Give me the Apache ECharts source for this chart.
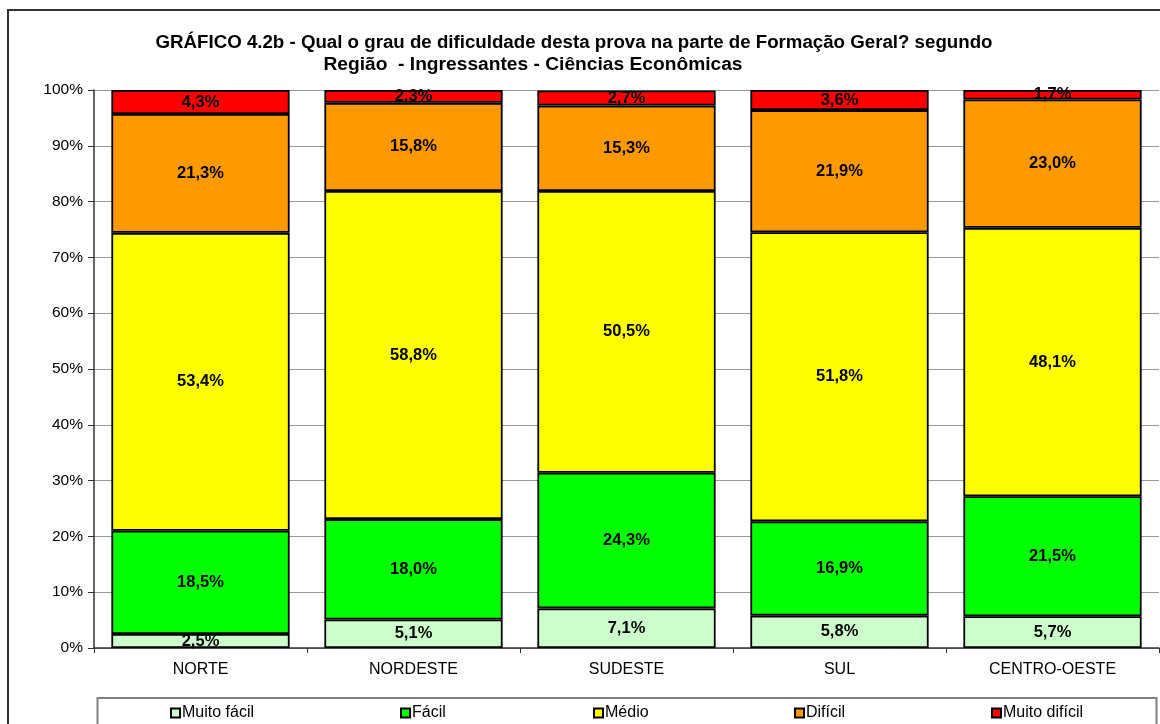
<!DOCTYPE html>
<html>
<head>
<meta charset="utf-8">
<script src="https://cdn.jsdelivr.net/npm/echarts@6/dist/echarts.min.js"></script>
<style>
html,body{margin:0;padding:0;background:#fff;}
#chart{width:1160px;height:724px;}
</style>
</head>
<body>
<div id="chart"></div>
<script>
const categories = ['NORTE', 'NORDESTE', 'SUDESTE', 'SUL', 'CENTRO-OESTE'];
const seriesNames = ['Muito fácil', 'Fácil', 'Médio', 'Difícil', 'Muito difícil'];
const muitoFacil = [2.5, 5.1, 7.1, 5.8, 5.7];
const facil = [18.5, 18.0, 24.3, 16.9, 21.5];
const medio = [53.4, 58.8, 50.5, 51.8, 48.1];
const dificil = [21.3, 15.8, 15.3, 21.9, 23.0];
const muitoDificil = [4.3, 2.3, 2.7, 3.6, 1.7];
const colors = ['#ccffcc', '#00ff00', '#ffff00', '#ff9900', '#ff0000'];
const titleLine1 = 'GRÁFICO 4.2b - Qual o grau de dificuldade desta prova na parte de Formação Geral? segundo';
const titleLine2 = 'Região  - Ingressantes - Ciências Econômicas';

const FONT = '"Liberation Sans", Arial, sans-serif';
const values = [muitoFacil, facil, medio, dificil, muitoDificil];
const legendX = [170, 400, 593, 794, 991];

const chart = echarts.init(document.getElementById('chart'), null, {renderer: 'canvas'});
const option = {
  backgroundColor: '#ffffff',
  animation: false,
  title: [
    {text: titleLine1, left: 569, top: 28, textAlign: 'center',
     textStyle: {fontFamily: FONT, fontSize: 18.7, fontWeight: 'bold', color: '#000'}},
    {text: titleLine2, left: 528, top: 50, textAlign: 'center',
     textStyle: {fontFamily: FONT, fontSize: 19.2, fontWeight: 'bold', color: '#000'}}
  ],
  graphic: [
    {type: 'rect', shape: {x: 8, y: 10, width: 1300, height: 900}, style: {fill: 'none', stroke: '#333', lineWidth: 2}, silent: true, z: -1},
    {type: 'rect', shape: {x: 97.5, y: 698, width: 1059, height: 60}, style: {fill: 'none', stroke: '#808080', lineWidth: 2}, silent: true, z: -1}
  ],
  legend: seriesNames.map((n, i) => ({
    data: [n], left: legendX[i], top: 705, padding: 0,
    itemWidth: 9, itemHeight: 9, icon: 'rect',
    textStyle: {fontFamily: FONT, fontSize: 16, color: '#000', padding: [0, 0, 0, -3]}
  })),
  grid: {left: 94, right: 1, top: 90, bottom: 76, containLabel: false},
  xAxis: {
    type: 'category', data: categories,
    axisLine: {lineStyle: {color: '#333', width: 1.5}},
    axisTick: {show: true, length: 5, lineStyle: {color: '#333'}},
    axisLabel: {fontFamily: FONT, fontSize: 16, color: '#000', margin: 14}
  },
  yAxis: {
    type: 'value', min: 0, max: 100, interval: 10,
    axisLine: {show: true, lineStyle: {color: '#333', width: 1.5}},
    axisTick: {show: true, length: 6, lineStyle: {color: '#333'}},
    axisLabel: {fontFamily: FONT, fontSize: 15.5, color: '#000', formatter: '{value}%', margin: 11},
    splitLine: {lineStyle: {color: '#9a9a9a', width: 1}}
  },
  series: seriesNames.map((n, i) => ({
    name: n, type: 'bar', stack: 'total', data: values[i],
    barCategoryGap: '16.3%',
    itemStyle: {color: colors[i], borderColor: '#000', borderWidth: 1.8},
    label: {
      show: true, position: 'inside', color: '#000',
      fontFamily: FONT, fontSize: 16.5, fontWeight: 'bold',
      formatter: p => p.value.toFixed(1).replace('.', ',') + '%'
    }
  }))
};
chart.setOption(option);
</script>
</body>
</html>
